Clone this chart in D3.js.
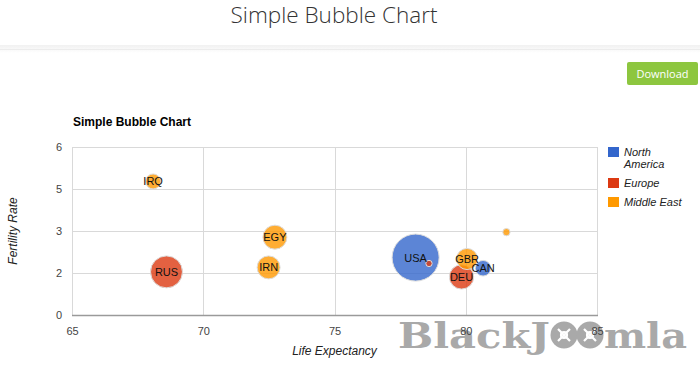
<!DOCTYPE html>
<html><head><meta charset="utf-8">
<script src="https://cdn.jsdelivr.net/npm/d3@7"></script>
<style>
html,body{margin:0;padding:0;background:#fff;width:700px;height:366px;overflow:hidden;}
svg{display:block;}
</style></head>
<body>
<svg id="c" width="700" height="366"></svg>
<script>
const ids = ["CAN","DEU","DNK","EGY","GBR","IRN","IRQ","ISR","RUS","USA"];
const lifeExpectancy = [80.66,79.84,78.6,72.73,80.05,72.49,68.09,81.55,68.6,78.09];
const fertilityRate = [1.67,1.36,1.84,2.78,2,1.7,4.77,2.96,1.54,2.05];
const regions = ["North America","Europe","Europe","Middle East","Middle East","Middle East","Middle East","Middle East","Europe","North America"];
const population = [33739900,81902307,5523095,79716203,61801570,73137148,31090763,7485600,141850000,307007000];
const showLabel = [true,true,false,true,true,true,true,false,true,true];
const regionNames = ["North America","Europe","Middle East"];
const regionColors = ["#3366cc","#dc3912","#ff9900"];
const xTicks = [65,70,75,80,85];
const yTickValues = [0,1.5,3,4.5,6];
const yTickLabels = ["0","2","3","5","6"];

const svg = d3.select("#c");
const F = "Arial, 'Liberation Sans', sans-serif";

// page header
svg.append("text").attr("x",334).attr("y",23).attr("text-anchor","middle")
  .attr("font-family","'Open Sans', sans-serif").attr("font-weight",300)
  .attr("font-size",22.5).attr("fill","#333").text("Simple Bubble Chart");
const defs = svg.append("defs");
const g1 = defs.append("linearGradient").attr("id","sh").attr("x1",0).attr("x2",0).attr("y1",0).attr("y2",1);
g1.append("stop").attr("offset","0").attr("stop-color","#f1f1f1");
g1.append("stop").attr("offset","1").attr("stop-color","#fff");
svg.append("rect").attr("x",0).attr("y",45).attr("width",700).attr("height",8).attr("fill","url(#sh)");
svg.append("line").attr("x1",0).attr("x2",700).attr("y1",49.5).attr("y2",49.5).attr("stroke","#ececec");

// download button
svg.append("rect").attr("x",627).attr("y",62).attr("width",71).attr("height",23).attr("rx",2)
  .attr("fill","#8dc63f");
svg.append("text").attr("x",662.5).attr("y",77.5).attr("text-anchor","middle")
  .attr("font-family","'Open Sans', sans-serif").attr("font-size",11).attr("fill","#fff").text("Download");

// watermark
const wm = svg.append("g").attr("fill","#a9a9a9");
wm.append("text").attr("x",398).attr("y",348).attr("font-family","'DejaVu Serif', serif")
  .attr("font-weight","bold").attr("font-size",36).attr("textLength",152)
  .attr("lengthAdjust","spacingAndGlyphs").text("BlackJ");
[564,590].forEach(cx=>{
  wm.append("circle").attr("cx",cx).attr("cy",335).attr("r",13.5);
  const m = wm.append("g").attr("stroke","#fff").attr("stroke-width",2.2).attr("fill","none");
  m.append("path").attr("d",`M${cx-6},${335-6}L${cx+6},${335+6}M${cx+6},${335-6}L${cx-6},${335+6}`);
  m.append("circle").attr("cx",cx).attr("cy",335).attr("r",3);
});
wm.append("text").attr("x",604).attr("y",348).attr("font-family","'DejaVu Serif', serif")
  .attr("font-weight","bold").attr("font-size",36).attr("textLength",83)
  .attr("lengthAdjust","spacingAndGlyphs").text("mla");

// chart
const L=72, R=597, T=147, B=315;
const x = d3.scaleLinear().domain([65,85]).range([L,R]);
const y = d3.scaleLinear().domain([0,6]).range([B,T]);
const r = d3.scaleSqrt().domain([0,d3.max(population)]).range([0,23.5]);
const color = d3.scaleOrdinal().domain(regionNames).range(regionColors);

svg.append("text").attr("x",73).attr("y",126).attr("font-family",F).attr("font-weight","bold")
  .attr("font-size",12).attr("fill","#000").text("Simple Bubble Chart");

const grid = svg.append("g");
grid.selectAll(".gy").data(yTickValues.slice(1)).join("line")
  .attr("x1",L).attr("x2",R).attr("y1",d=>Math.round(y(d))+0.5).attr("y2",d=>Math.round(y(d))+0.5)
  .attr("stroke","#d9d9d9");
grid.selectAll(".gx").data(xTicks).join("line")
  .attr("x1",d=>Math.round(x(d))+0.5).attr("x2",d=>Math.round(x(d))+0.5).attr("y1",T).attr("y2",B)
  .attr("stroke","#d9d9d9");
grid.append("line").attr("x1",L).attr("x2",R+1).attr("y1",B+0.5).attr("y2",B+0.5).attr("stroke","#9a9a9a").attr("stroke-width",1.5);

// axes via d3
const xAxis = svg.append("g").attr("transform",`translate(0,${B})`)
  .call(d3.axisBottom(x).tickValues(xTicks).tickSize(0).tickPadding(12));
const yAxis = svg.append("g").attr("transform",`translate(${L},0)`)
  .call(d3.axisLeft(y).tickValues(yTickValues).tickFormat((d,i)=>yTickLabels[i]).tickSize(0).tickPadding(10));
[xAxis,yAxis].forEach(a=>{
  a.select(".domain").remove();
  a.selectAll("text").attr("font-family",F).attr("font-size",11).attr("fill","#444");
});

// bubbles
const data = ids.map((id,i)=>({id,x:lifeExpectancy[i],y:fertilityRate[i],region:regions[i],pop:population[i],lab:showLabel[i]}));
const sorted = data.slice().sort((a,b)=>b.pop-a.pop);
svg.append("g").selectAll("circle").data(sorted).join("circle")
  .attr("cx",d=>x(d.x)).attr("cy",d=>y(d.y)).attr("r",d=>r(d.pop))
  .attr("fill",d=>color(d.region)).attr("fill-opacity",0.8)
  .attr("stroke","#ddd").attr("stroke-width",1);
svg.append("g").selectAll("text").data(sorted.filter(d=>d.lab)).join("text")
  .attr("x",d=>x(d.x)).attr("y",d=>y(d.y)+4).attr("text-anchor","middle")
  .attr("font-family",F).attr("font-size",11).attr("fill","#111").text(d=>d.id);

// axis titles
svg.append("text").attr("x",(L+R)/2).attr("y",355).attr("text-anchor","middle")
  .attr("font-family",F).attr("font-style","italic").attr("font-size",12).attr("fill","#222").text("Life Expectancy");
svg.append("text").attr("transform",`translate(17,${(T+B)/2}) rotate(-90)`).attr("text-anchor","middle")
  .attr("font-family",F).attr("font-style","italic").attr("font-size",12).attr("fill","#222").text("Fertility Rate");

// legend
const legY = [147,178,197];
const leg = svg.append("g");
regionNames.forEach((n,i)=>{
  leg.append("rect").attr("x",608).attr("y",legY[i]).attr("width",11).attr("height",10).attr("fill",regionColors[i]);
});
const lt = (t,yy)=>leg.append("text").attr("x",624).attr("y",yy).attr("font-family",F)
  .attr("font-style","italic").attr("font-size",11).attr("fill","#222").text(t);
lt("North",156); lt("America",168); lt("Europe",187); lt("Middle East",206);
</script>
</body></html>
